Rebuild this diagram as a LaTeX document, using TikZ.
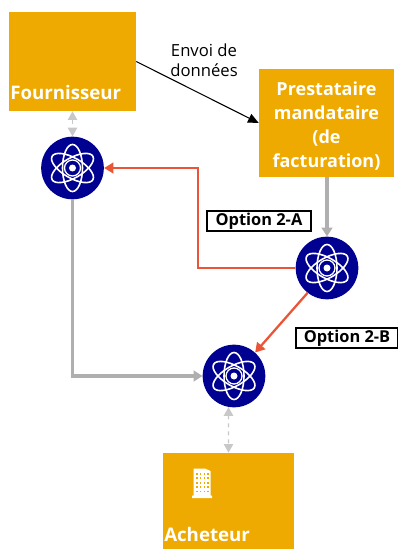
\documentclass[tikz,border=0pt]{standalone}
\usepackage{fontspec}
\setmainfont{Open Sans}
\usetikzlibrary{arrows.meta}
\definecolor{box}{RGB}{238, 170, 0}
\definecolor{nav}{RGB}{0, 0, 145}
\definecolor{opt}{RGB}{235, 85, 55}
\definecolor{flow}{RGB}{175, 175, 175}
\definecolor{link}{RGB}{200, 200, 200}
\tikzset{
  actor/.style={fill=box, inner sep=0pt},
  actortext/.style={text=white, font=\fontsize{13.5}{18}\selectfont\bfseries, inner sep=0pt, align=center},
  actorname/.style={actortext, anchor=west, font=\fontsize{14}{18}\selectfont\bfseries},
  node_platform/.style={circle, fill=nav, minimum size=47pt, inner sep=0pt},
  optionbox/.style={draw=black, line width=0.8pt, fill=white, inner sep=0pt, font=\fontsize{12.3}{14}\selectfont\bfseries},
  flowline/.style={color=flow, line width=2.4pt, -{Triangle[width=8pt, length=6.5pt]}},
  optline/.style={color=opt, line width=1.7pt, -{Triangle[width=8pt, length=7pt]}},
  linkline/.style={color=link, line width=0.9pt, dashed, {Triangle[width=7pt, length=6.5pt]}-{Triangle[width=7pt, length=6.5pt]}},
  atom/.pic={
    \foreach \a in {90, 30, -30}
      \draw[color=white, line width=1.2pt, rotate=\a] (0, 0) ellipse (23.5 and 10);
    \fill[color=white] (0, 0) circle (3.5);
    \draw[color=white, line width=1pt] (0, 0) circle (8);
  }
}
\begin{document}
\begin{tikzpicture}[x=0.75pt, y=-0.75pt]
      \useasboundingbox (0, 0) rectangle (398, 549);
      \node[actor, minimum width=95.25pt, minimum height=74.25pt] (fournisseur) at (72.5, 61.5) {};
      \node[actor, minimum width=101.25pt, minimum height=81pt] (prestataire) at (326.5, 123) {};
      \node[actor, minimum width=98.25pt, minimum height=72pt] (acheteur) at (228.5, 501) {};
      \node[node_platform] (pf_fournisseur) at (72.5, 168) {};
      \node[node_platform] (pf_prestataire) at (327, 268) {};
      \node[node_platform] (pf_acheteur) at (234, 376) {};
      \pic at (pf_fournisseur) {atom};
      \pic at (pf_prestataire) {atom};
      \pic at (pf_acheteur) {atom};
      \node[actorname] (txt_fournisseur) at (10, 93) {Fournisseur};
      \node[actortext] (txt_prestataire) at (326.5, 126) {Prestataire\\mandataire\\(de\\facturation)};
      \node[actorname] (txt_acheteur) at (164, 534) {Acheteur};
      \node[font=\fontsize{12.5}{15}\selectfont, inner sep=0pt, align=center] (envoi) at (204, 60) {Envoi de\\données};
      \node[optionbox, minimum width=78pt, minimum height=15pt] (opt_a) at (259, 221) {Option 2-A};
      \node[optionbox, minimum width=76.5pt, minimum height=15pt] (opt_b) at (347, 338) {Option 2-B};
      \coordinate (coude) at (198, 168);
      \draw[color=black, line width=0.8pt, -{Triangle[width=7pt, length=8pt]}] (fournisseur.east)--(prestataire.west);
      \draw[linkline] (fournisseur.south -| pf_fournisseur.north)--(pf_fournisseur.north);
      \draw[flowline] (prestataire.south -| pf_prestataire.north)--(pf_prestataire.north);
      \draw[optline] (pf_prestataire.west)-|(coude)--(pf_fournisseur.east);
      \draw[optline] (pf_prestataire.232)--(pf_acheteur.48);
      \draw[flowline] (pf_fournisseur.south)|-(pf_acheteur.west);
      \draw[linkline] (pf_acheteur.260)--(acheteur.north);
      \fill[color=white] (192, 498)--(212, 498)--(212, 495.5)--(210.5, 495.5)--(210.5, 471)--(205, 468.5)--(193.5, 468.5)--(193.5, 495.5)--(192, 495.5)--cycle;
      \foreach \i in {0, 1, 2, 3}
        \foreach \j in {0, 1, 2, 3, 4}
          \fill[color=box] (196 + 3.8*\i, 473 + 4.4*\j) rectangle +(1.6, 1.8);
    \end{tikzpicture}
\end{document}
